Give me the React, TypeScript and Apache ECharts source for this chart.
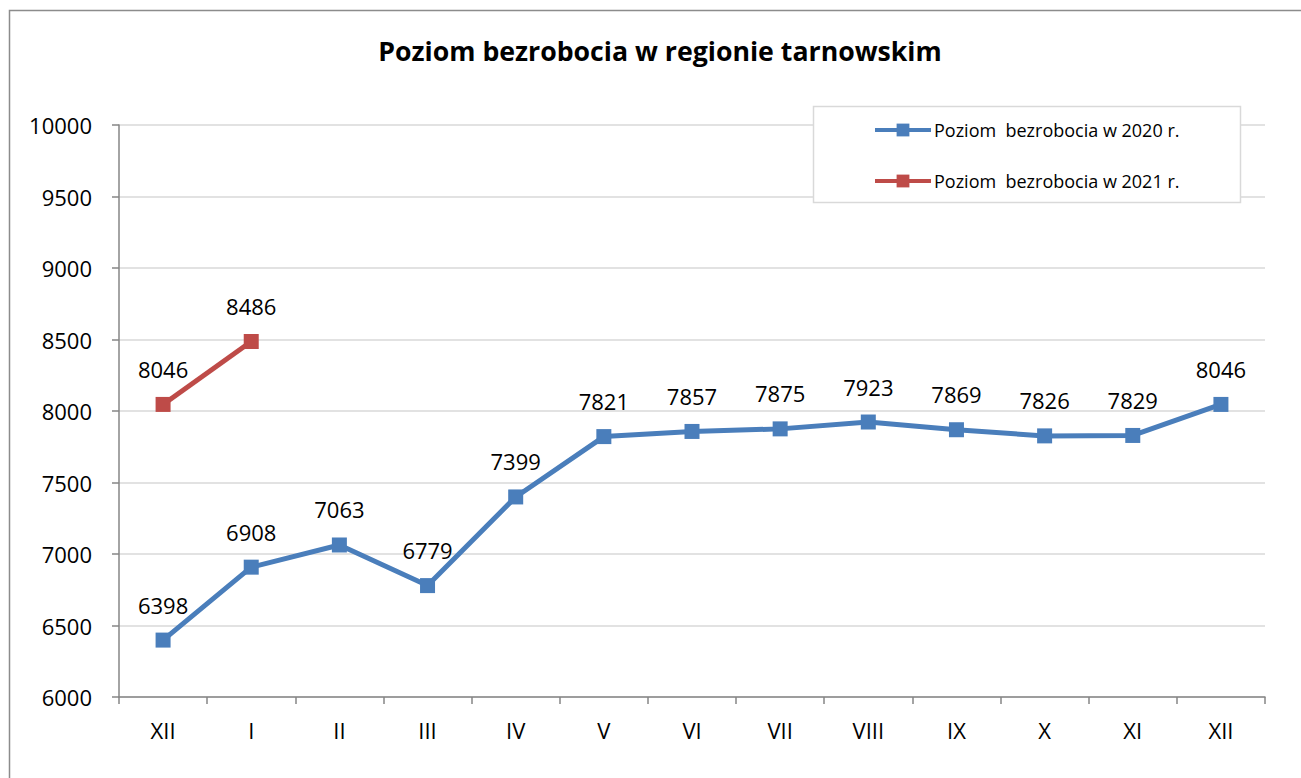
import React, { useEffect, useRef } from "react";
import * as echarts from "echarts";

const categories = ["XII", "I", "II", "III", "IV", "V", "VI", "VII", "VIII", "IX", "X", "XI", "XII"];
const values2020 = [6398, 6908, 7063, 6779, 7399, 7821, 7857, 7875, 7923, 7869, 7826, 7829, 8046];
const values2021: (number | null)[] = [8046, 8486, null, null, null, null, null, null, null, null, null, null, null];
const seriesNames = ["Poziom  bezrobocia w 2020 r.", "Poziom  bezrobocia w 2021 r."];
const titleText = "Poziom bezrobocia w regionie tarnowskim";

const FONT = "'Open Sans', 'Noto Sans', sans-serif";

export default function App() {
  const ref = useRef<HTMLDivElement>(null);
  useEffect(() => {
    if (!ref.current) return;
    const chart = echarts.init(ref.current, undefined, { renderer: "svg" });
    const labelStyle = {
      show: true,
      position: "top" as const,
      distance: 17,
      fontSize: 22,
      fontFamily: FONT,
      color: "#000",
    };
    chart.setOption({
      animation: false,
      backgroundColor: "#fff",
      textStyle: { fontFamily: FONT },
      title: {
        text: titleText,
        left: 660,
        top: 37,
        textAlign: "center",
        padding: 0,
        textStyle: { fontSize: 26.7, fontWeight: "bold", color: "#000", fontFamily: FONT },
      },
      graphic: [
        {
          type: "rect",
          shape: { x: 9.5, y: 10.5, width: 1400, height: 1000 },
          style: { fill: "none", stroke: "#8c8c8c", lineWidth: 1.5 },
          z: 1,
          silent: true,
        },
        {
          type: "rect",
          shape: { x: 813.5, y: 106.5, width: 427, height: 96 },
          style: { fill: "#fff", stroke: "#d9d9d9", lineWidth: 1.5 },
          z: 3,
          silent: true,
        },
      ],
      legend: {
        orient: "vertical",
        left: 873,
        top: 121,
        padding: 0,
        itemWidth: 56,
        itemHeight: 16,
        itemGap: 33,
        z: 5,
        lineStyle: { width: 4 },
        textStyle: { fontSize: 18, color: "#000", fontFamily: FONT, padding: [0, 0, 0, -2] },
        data: seriesNames,
      },
      grid: { left: 119, right: 36, top: 125, bottom: 81, containLabel: false },
      xAxis: {
        type: "category",
        data: categories,
        boundaryGap: true,
        axisLine: { show: true, lineStyle: { color: "#868686", width: 1.5 } },
        axisTick: { show: true, length: 7, lineStyle: { color: "#868686", width: 1.5 } },
        axisLabel: { fontSize: 22, color: "#000", margin: 22, fontFamily: FONT },
        splitLine: { show: false },
      },
      yAxis: {
        type: "value",
        min: 6000,
        max: 10000,
        interval: 500,
        axisLine: { show: true, lineStyle: { color: "#868686", width: 1.5 } },
        axisTick: { show: true, length: 7, lineStyle: { color: "#868686", width: 1.5 } },
        axisLabel: {
          fontSize: 22,
          color: "#000",
          margin: 27,
          fontFamily: FONT,
          formatter: (v: number) => String(v),
        },
        splitLine: { show: true, lineStyle: { color: "#d9d9d9", width: 1.5 } },
      },
      series: [
        {
          name: seriesNames[0],
          type: "line",
          data: values2020,
          symbol: "rect",
          symbolSize: 15,
          lineStyle: { color: "#4a7ebb", width: 5 },
          itemStyle: { color: "#4a7ebb" },
          label: labelStyle,
          z: 2,
        },
        {
          name: seriesNames[1],
          type: "line",
          data: values2021,
          symbol: "rect",
          symbolSize: 15,
          connectNulls: false,
          lineStyle: { color: "#be4b48", width: 5 },
          itemStyle: { color: "#be4b48" },
          label: labelStyle,
          z: 2,
        },
      ],
    });
    return () => chart.dispose();
  }, []);
  return (
    <div
      ref={ref}
      style={{ position: "fixed", left: 0, top: 0, width: 1301, height: 778 }}
    />
  );
}
